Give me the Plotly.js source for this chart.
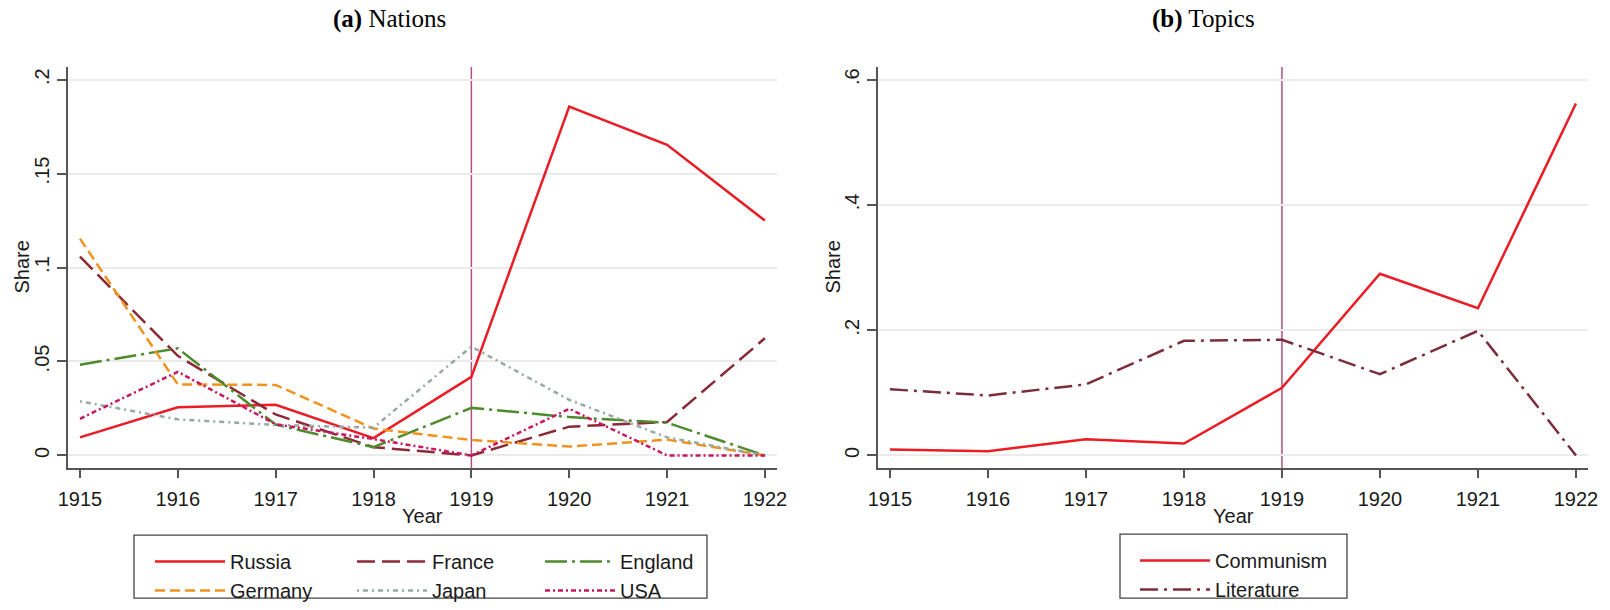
<!DOCTYPE html>
<html>
<head>
<meta charset="utf-8">
<script src="https://cdn.plot.ly/plotly-3.0.1.min.js"></script>
<style>html,body{margin:0;padding:0;background:#fff;}#chart{width:1610px;height:610px;}</style>
</head>
<body>
<div id="chart"></div>
<script>
// ---- data ----
var years = [1915, 1916, 1917, 1918, 1919, 1920, 1921, 1922];
var russia   = [0.0096, 0.0256, 0.0270, 0.0092, 0.0418, 0.1857, 0.1653, 0.1250];
var france   = [0.1058, 0.0530, 0.0218, 0.0044, 0.0000, 0.0153, 0.0178, 0.0624];
var england  = [0.0483, 0.0570, 0.0164, 0.0044, 0.0253, 0.0204, 0.0174, 0.0000];
var germany  = [0.1154, 0.0378, 0.0375, 0.0143, 0.0082, 0.0047, 0.0084, 0.0000];
var japan    = [0.0288, 0.0192, 0.0162, 0.0148, 0.0579, 0.0296, 0.0096, 0.0000];
var usa      = [0.0195, 0.0445, 0.0166, 0.0087, 0.0000, 0.0248, 0.0000, 0.0000];
var communism  = [0.0094, 0.0068, 0.0260, 0.0190, 0.1080, 0.2900, 0.2350, 0.5620];
var literature = [0.1057, 0.0957, 0.1135, 0.1830, 0.1847, 0.1297, 0.1990, 0.0000];
var markYear = 1919;
var nationTickVals = [0, 0.05, 0.1, 0.15, 0.2];
var nationTickText = ['0', '.05', '.1', '.15', '.2'];
var topicTickVals = [0, 0.2, 0.4, 0.6];
var topicTickText = ['0', '.2', '.4', '.6'];

// ---- helpers ----
var W = 1610, H = 610;
function px(x) { return x / W; }
function py(y) { return 1 - y / H; }

var sans = 'Liberation Sans, Arial, sans-serif';
var serif = 'Liberation Serif, Times New Roman, serif';
var textCol = '#1a1a1a';

function tr(x, y, name, color, dash, xa, ya, leg) {
  return {x: x, y: y, name: name, type: 'scatter', mode: 'lines',
    xaxis: xa, yaxis: ya, legend: leg,
    line: {color: color, width: 2.5, dash: dash}, hoverinfo: 'x+y+name'};
}

var data = [
  tr(years, russia,  'Russia',  '#ec1c24', 'solid', 'x', 'y', 'legend'),
  tr(years, france,  'France',  '#8b2a36', '18px,7px', 'x', 'y', 'legend2'),
  tr(years, england, 'England', '#4f8a2c', '22px,5px,3px,5px', 'x', 'y', 'legend3'),
  tr(years, germany, 'Germany', '#f0921e', '10px,5px', 'x', 'y', 'legend'),
  tr(years, japan,   'Japan',   '#98a8a6', '2px,4px,5px,4px', 'x', 'y', 'legend2'),
  tr(years, usa,     'USA',     '#c9175f', '5px,3px,2px,3px', 'x', 'y', 'legend3'),
  tr(years, communism,  'Communism',  '#ec1c24', 'solid', 'x2', 'y2', 'legend4'),
  tr(years, literature, 'Literature', '#7b2d3b', '18px,6px,3px,6px', 'x2', 'y2', 'legend4')
];

var axisCol = '#555555';
function xax(d0, d1, anchor) {
  return {domain: [px(d0), px(d1)], anchor: anchor, range: [1914.878, 1922.123],
    tickmode: 'array', tickvals: years, ticktext: years.map(String),
    ticks: 'outside', ticklen: 8, tickwidth: 1.5, tickcolor: axisCol,
    ticklabelstandoff: 4,
    showline: true, linecolor: axisCol, linewidth: 1.5,
    showgrid: false, zeroline: false,
    tickfont: {family: sans, size: 20, color: textCol}, fixedrange: true};
}
function yax(range, vals, text, anchor) {
  return {domain: [py(476), py(68)], anchor: anchor, range: range,
    tickmode: 'array', tickvals: vals, ticktext: text, tickangle: -90,
    ticks: 'outside', ticklen: 9, tickwidth: 1.5, tickcolor: axisCol,
    showline: true, linecolor: axisCol, linewidth: 1.5,
    showgrid: true, gridcolor: '#ebebeb', gridwidth: 1.5, zeroline: false,
    tickfont: {family: sans, size: 20, color: textCol}, fixedrange: true};
}

var ITEMW = 70;
function legendAt(xline, ytop) {
  return {x: px(xline - 5), y: py(ytop), xanchor: 'left', yanchor: 'top',
    orientation: 'v', bgcolor: 'rgba(0,0,0,0)', borderwidth: 0,
    itemwidth: ITEMW, font: {family: sans, size: 20, color: textCol},
    itemclick: false, itemdoubleclick: false, tracegroupgap: 0};
}

var layout = {
  width: W, height: H,
  margin: {l: 0, r: 0, t: 0, b: 0},
  paper_bgcolor: '#ffffff', plot_bgcolor: '#ffffff',
  showlegend: true,
  xaxis: xax(68, 777, 'y'),
  yaxis: yax([-0.0068, 0.2068], nationTickVals, nationTickText, 'x'),
  xaxis2: xax(878, 1588, 'y2'),
  yaxis2: yax([-0.0204, 0.6204], topicTickVals, topicTickText, 'x2'),
  legend: legendAt(155, 551),
  legend2: legendAt(357, 551),
  legend3: legendAt(545, 551),
  legend4: legendAt(1140, 550),
  shapes: [
    {type: 'line', xref: 'x', yref: 'y domain', x0: markYear, x1: markYear, y0: 0, y1: 1,
     line: {color: '#b0507d', width: 1.5}, layer: 'below'},
    {type: 'line', xref: 'x2', yref: 'y2 domain', x0: markYear, x1: markYear, y0: 0, y1: 1,
     line: {color: '#b0507d', width: 1.5}, layer: 'below'},
    {type: 'rect', xref: 'paper', yref: 'paper', x0: px(134), x1: px(707), y0: py(608), y1: py(544),
     line: {color: '#444444', width: 1.3}},
    {type: 'rect', xref: 'paper', yref: 'paper', x0: px(1120), x1: px(1347), y0: py(608), y1: py(543),
     line: {color: '#444444', width: 1.3}}
  ],
  annotations: [
    {text: '<b>(a)</b> Nations', xref: 'paper', yref: 'paper', x: px(389), y: py(19),
     showarrow: false, font: {family: serif, size: 25, color: '#000'}, xanchor: 'center', yanchor: 'middle'},
    {text: '<b>(b)</b> Topics', xref: 'paper', yref: 'paper', x: px(1203), y: py(19),
     showarrow: false, font: {family: serif, size: 25, color: '#000'}, xanchor: 'center', yanchor: 'middle'},
    {text: 'Year', xref: 'paper', yref: 'paper', x: px(423), y: py(525),
     showarrow: false, font: {family: sans, size: 20, color: textCol}, xanchor: 'center', yanchor: 'middle'},
    {text: 'Year', xref: 'paper', yref: 'paper', x: px(1233), y: py(525),
     showarrow: false, font: {family: sans, size: 20, color: textCol}, xanchor: 'center', yanchor: 'middle'},
    {text: 'Share', xref: 'paper', yref: 'paper', x: px(22), y: py(272), textangle: -90,
     showarrow: false, font: {family: sans, size: 20, color: textCol}, xanchor: 'center', yanchor: 'middle'},
    {text: 'Share', xref: 'paper', yref: 'paper', x: px(833), y: py(272), textangle: -90,
     showarrow: false, font: {family: sans, size: 20, color: textCol}, xanchor: 'center', yanchor: 'middle'}
  ]
};

Plotly.newPlot('chart', data, layout, {displayModeBar: false, staticPlot: false});
</script>
</body>
</html>
